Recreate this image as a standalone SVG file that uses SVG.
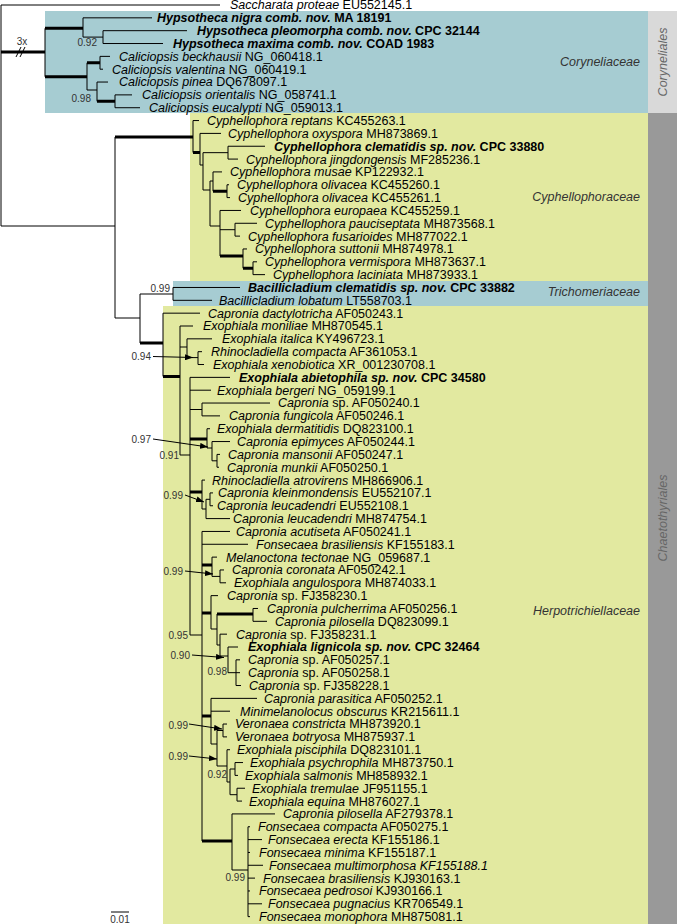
<svg xmlns="http://www.w3.org/2000/svg" width="677" height="924" viewBox="0 0 677 924">
<defs>
<style>
.t{font-family:"Liberation Sans",Arial,sans-serif;font-size:12.5px;fill:#000}
.i{font-style:italic}
.b{font-weight:bold}
.fam{font-family:"Liberation Sans",Arial,sans-serif;font-size:12.5px;font-style:italic;fill:#333}
.ord{font-family:"Liberation Sans",Arial,sans-serif;font-size:12.5px;font-style:italic;fill:#666}
.s{font-family:"Liberation Sans",Arial,sans-serif;font-size:10px;fill:#333}
.br{fill:none;stroke:#000;stroke-width:1}
.th{fill:none;stroke:#000;stroke-width:3}
.ar{fill:none;stroke:#000;stroke-width:1;marker-end:url(#ah)}
</style>
<marker id="ah" viewBox="0 0 8 6" refX="8" refY="3" markerWidth="8" markerHeight="6" markerUnits="userSpaceOnUse" orient="auto">
<path d="M0,0L8,3L0,6z" fill="#000"/>
</marker>
</defs>
<rect width="677" height="924" fill="#fff"/>
<g id="backgrounds">
<rect x="45" y="11" width="603" height="102" fill="#a6ccd2"/>
<rect x="648" y="11" width="29" height="102" fill="#d9d9d9"/>
<rect x="190" y="113" width="458" height="168" fill="#e2e9a0"/>
<rect x="173" y="281" width="475" height="25" fill="#a6ccd2"/>
<rect x="163" y="306" width="485" height="618" fill="#e2e9a0"/>
<rect x="648" y="113" width="29" height="811" fill="#999"/>
</g>
<g id="group-labels">
<text class="fam" x="640" y="66" text-anchor="end">Coryneliaceae</text>
<text class="fam" x="640" y="201" text-anchor="end">Cyphellophoraceae</text>
<text class="fam" x="640" y="296" text-anchor="end">Trichomeriaceae</text>
<text class="fam" x="640" y="615" text-anchor="end">Herpotrichiellaceae</text>
<text class="ord" transform="translate(667,62) rotate(-90)" text-anchor="middle">Coryneliales</text>
<text class="ord" transform="translate(667,518) rotate(-90)" text-anchor="middle">Chaetothyriales</text>
</g>
<g id="connectors">
<path class="br" stroke-width="1.3" d="M1,5V226M1,226H115M115,137V318"/>
<path class="br" d="M1,5H220
M45,28.3V76.7
M83,17.84V37.1M83,17.84H152M83,37.1H103
M103,30.68V43.52M103,30.68H187M103,43.52H163
M87,62.8V90M87,90H97
M100,56.36V69.2M100,56.36H110M100,69.2H103
M97,82.04V101.3M97,82.04H108
M115,94.88V107.72M115,94.88H132M115,107.72H140
M193,120.56V152.5M193,120.56H199
M200,133.4V165M200,133.4H221M200,165H203
M203,152.66V190M203,152.66H228M203,190H210
M228,146.24V159.08M228,146.24H265M228,159.08H238
M210,181V226M210,181H213M210,226H220
M213,171.92V191.18M213,171.92H222
M227,184.76V197.6M227,184.76H229M227,197.6H230
M220,210.44V256M220,210.44H241M220,229.7H235
M235,223.28V236.12M235,223.28H257M235,236.12H240
M243,248.96V268.2M243,248.96H247
M253,261.8V274.64M253,261.8H257M253,274.64H265
M115,318H140M140,294V343M140,294H173
M173,287.48V300.32M173,287.48H240M173,300.32H212
M163,313.16V376.4M163,313.16H200
M180,326V455M180,326H193M180,347H187M180,455H190
M187,338.84V357.6M187,338.84H212M187,357.6H198
M198,351.68V364.52M198,351.68H202M198,364.52H204
M190,377.36V635M190,377.36H230M190,390.2H211M190,409.5H202M190,635H202
M202,403.04V415.88M202,403.04H270M202,415.88H220
M207,428.72V448M207,428.72H210M207,448H212
M212,441.56V460.8M212,441.56H230M212,460.8H217
M217,454.4V467.24M217,454.4H220M217,467.24H219
M202,480.08V509M202,480.08H205M202,509H206
M206,499.3V518.6M206,499.3H210M206,518.6H230
M210,492.92V505.76M210,492.92H213M210,505.76H213
M202,531.44V841M202,531.44H230M202,544.28H248
M212,557.12V576.4M212,557.12H217M212,576.4H220
M220,569.96V582.8M220,569.96H224M220,582.8H226
M211,595.64V629M211,595.64H218M211,629H217
M217,614V645M217,645H220
M220,634.16V656M220,634.16H227M220,656H228
M228,647V672.68M228,647H238M228,672.68H236
M236,659.84V685.52M236,659.84H240M236,672.68H240M236,685.52H241
M253,608.48V621.32M253,608.48H258M253,621.32H267
M211,698.36V744M211,698.36H257M211,711.2H230M211,744H217
M217,730.5V766M217,730.5H223M217,766H227
M223,724.04V736.88M223,724.04H227M223,736.88H227
M227,749.72V782M227,749.72H230M227,782H230
M230,769V794.7M230,769H235M230,794.7H237
M235,762.56V775.4M235,762.56H243M235,775.4H238
M237,788.24V801.08M237,788.24H245M237,801.08H242
M232,813.92V870M232,813.92H275M232,870H248
M248,826.76V916.64M248,826.76H250M248,839.6H262M248,852.44H250M248,865.28H263M248,878.12H255M248,890.96H250M248,903.8H262M248,916.64H250"/>
<path class="th" d="M1,52H45M45,28.3H83M45,76.7H87M87,62.8H100M97,101.3H115
M115,137H193M193,152.5H200M213,191.18H227M220,256H243M243,268.2H253
M140,343H163M163,376.4H180M190,439H207M190,492H202M202,565H212M202,613H211M217,614H253M202,716H211M202,841H232"/>
<path class="br" stroke-width="1.4" d="M16,57L21,47M20,57L25,47"/>
<path class="ar" d="M153,356.5L193,357.5"/>
<path class="ar" d="M153,439L208,447"/>
<path class="ar" d="M185,495L204,502"/>
<path class="ar" d="M185,571L213,574"/>
<path class="ar" d="M192,655L224,657.5"/>
<path class="ar" d="M189,724L222,729"/>
<path class="ar" d="M189,756L217,759"/>
<path class="br" d="M111,912H129"/>
</g>
<g id="support-values">
<text class="s" x="22" y="45" text-anchor="middle">3x</text>
<text class="s" x="97" y="46" text-anchor="end">0.92</text>
<text class="s" x="91" y="102" text-anchor="end">0.98</text>
<text class="s" x="170" y="292" text-anchor="end">0.99</text>
<text class="s" x="151" y="360" text-anchor="end">0.94</text>
<text class="s" x="151" y="443" text-anchor="end">0.97</text>
<text class="s" x="179" y="459" text-anchor="end">0.91</text>
<text class="s" x="183" y="499" text-anchor="end">0.99</text>
<text class="s" x="183" y="575" text-anchor="end">0.99</text>
<text class="s" x="188" y="639" text-anchor="end">0.95</text>
<text class="s" x="190" y="659" text-anchor="end">0.90</text>
<text class="s" x="227" y="675" text-anchor="end">0.98</text>
<text class="s" x="188" y="729" text-anchor="end">0.99</text>
<text class="s" x="188" y="760" text-anchor="end">0.99</text>
<text class="s" x="227" y="778" text-anchor="end">0.92</text>
<text class="s" x="245" y="881" text-anchor="end">0.99</text>
<text class="s" x="120" y="923" text-anchor="middle">0.01</text>
</g>
<g id="taxa">
<g id="t01"><text class="t" x="230" y="9.4"><tspan class="i">Saccharata proteae</tspan> EU552145.1</text></g>
<g id="t02"><text class="t b" x="157" y="22.2"><tspan class="i">Hypsotheca nigra comb. nov.</tspan> MA 18191</text></g>
<g id="t03"><text class="t b" x="197" y="35.1"><tspan class="i">Hypsotheca pleomorpha comb. nov.</tspan> CPC 32144</text></g>
<g id="t04"><text class="t b" x="173" y="47.9"><tspan class="i">Hypsotheca maxima comb. nov.</tspan> COAD 1983</text></g>
<g id="t05"><text class="t" x="119" y="60.8"><tspan class="i">Caliciopsis beckhausii</tspan> NG_060418.1</text></g>
<g id="t06"><text class="t" x="112" y="73.6"><tspan class="i">Caliciopsis valentina</tspan> NG_060419.1</text></g>
<g id="t07"><text class="t" x="119" y="86.4"><tspan class="i">Caliciopsis pinea</tspan> DQ678097.1</text></g>
<g id="t08"><text class="t" x="142" y="99.3"><tspan class="i">Caliciopsis orientalis</tspan> NG_058741.1</text></g>
<g id="t09"><text class="t" x="149" y="112.1"><tspan class="i">Caliciopsis eucalypti</tspan> NG_059013.1</text></g>
<g id="t10"><text class="t" x="207" y="125"><tspan class="i">Cyphellophora reptans</tspan> KC455263.1</text></g>
<g id="t11"><text class="t" x="228" y="137.8"><tspan class="i">Cyphellophora oxyspora</tspan> MH873869.1</text></g>
<g id="t12"><text class="t b" x="274" y="150.6"><tspan class="i">Cyphellophora clematidis sp. nov.</tspan> CPC 33880</text></g>
<g id="t13"><text class="t" x="246" y="163.5"><tspan class="i">Cyphellophora jingdongensis</tspan> MF285236.1</text></g>
<g id="t14"><text class="t" x="230" y="176.3"><tspan class="i">Cyphellophora musae</tspan> KP122932.1</text></g>
<g id="t15"><text class="t" x="237" y="189.2"><tspan class="i">Cyphellophora olivacea</tspan> KC455260.1</text></g>
<g id="t16"><text class="t" x="238" y="202"><tspan class="i">Cyphellophora olivacea</tspan> KC455261.1</text></g>
<g id="t17"><text class="t" x="250" y="214.8"><tspan class="i">Cyphellophora europaea</tspan> KC455259.1</text></g>
<g id="t18"><text class="t" x="265" y="227.7"><tspan class="i">Cyphellophora pauciseptata</tspan> MH873568.1</text></g>
<g id="t19"><text class="t" x="248" y="240.5"><tspan class="i">Cyphellophora fusarioides</tspan> MH877022.1</text></g>
<g id="t20"><text class="t" x="255" y="253.4"><tspan class="i">Cyphellophora suttonii</tspan> MH874978.1</text></g>
<g id="t21"><text class="t" x="265" y="266.2"><tspan class="i">Cyphellophora vermispora</tspan> MH873637.1</text></g>
<g id="t22"><text class="t" x="273" y="279"><tspan class="i">Cyphellophora laciniata</tspan> MH873933.1</text></g>
<g id="t23"><text class="t b" x="248" y="291.9"><tspan class="i">Bacillicladium clematidis sp. nov.</tspan> CPC 33882</text></g>
<g id="t24"><text class="t" x="219" y="304.7"><tspan class="i">Bacillicladium lobatum</tspan> LT558703.1</text></g>
<g id="t25"><text class="t" x="208" y="317.6"><tspan class="i">Capronia dactylotricha</tspan> AF050243.1</text></g>
<g id="t26"><text class="t" x="203" y="330.4"><tspan class="i">Exophiala moniliae</tspan> MH870545.1</text></g>
<g id="t27"><text class="t" x="222" y="343.2"><tspan class="i">Exophiala italica</tspan> KY496723.1</text></g>
<g id="t28"><text class="t" x="211" y="356.1"><tspan class="i">Rhinocladiella compacta</tspan> AF361053.1</text></g>
<g id="t29"><text class="t" x="213" y="368.9"><tspan class="i">Exophiala xenobiotica</tspan> XR_001230708.1</text></g>
<g id="t30"><text class="t b" x="239" y="381.8"><tspan class="i">Exophiala abietophila sp. nov.</tspan> CPC 34580</text></g>
<g id="t31"><text class="t" x="217" y="394.6"><tspan class="i">Exophiala bergeri</tspan> NG_059199.1</text></g>
<g id="t32"><text class="t" x="278" y="407.4"><tspan class="i">Capronia</tspan> sp. AF050240.1</text></g>
<g id="t33"><text class="t" x="229" y="420.3"><tspan class="i">Capronia fungicola</tspan> AF050246.1</text></g>
<g id="t34"><text class="t" x="217" y="433.1"><tspan class="i">Exophiala dermatitidis</tspan> DQ823100.1</text></g>
<g id="t35"><text class="t" x="237" y="446"><tspan class="i">Capronia epimyces</tspan> AF050244.1</text></g>
<g id="t36"><text class="t" x="228" y="458.8"><tspan class="i">Capronia mansonii</tspan> AF050247.1</text></g>
<g id="t37"><text class="t" x="227" y="471.6"><tspan class="i">Capronia munkii</tspan> AF050250.1</text></g>
<g id="t38"><text class="t" x="212" y="484.5"><tspan class="i">Rhinocladiella atrovirens</tspan> MH866906.1</text></g>
<g id="t39"><text class="t" x="218" y="497.3"><tspan class="i">Capronia kleinmondensis</tspan> EU552107.1</text></g>
<g id="t40"><text class="t" x="217" y="510.2"><tspan class="i">Capronia leucadendri</tspan> EU552108.1</text></g>
<g id="t41"><text class="t" x="233" y="523"><tspan class="i">Capronia leucadendri</tspan> MH874754.1</text></g>
<g id="t42"><text class="t" x="236" y="535.8"><tspan class="i">Capronia acutiseta</tspan> AF050241.1</text></g>
<g id="t43"><text class="t" x="256" y="548.7"><tspan class="i">Fonsecaea brasiliensis</tspan> KF155183.1</text></g>
<g id="t44"><text class="t" x="226" y="561.5"><tspan class="i">Melanoctona tectonae</tspan> NG_059687.1</text></g>
<g id="t45"><text class="t" x="232" y="574.4"><tspan class="i">Capronia coronata</tspan> AF050242.1</text></g>
<g id="t46"><text class="t" x="234" y="587.2"><tspan class="i">Exophiala angulospora</tspan> MH874033.1</text></g>
<g id="t47"><text class="t" x="227" y="600"><tspan class="i">Capronia</tspan> sp. FJ358230.1</text></g>
<g id="t48"><text class="t" x="267" y="612.9"><tspan class="i">Capronia pulcherrima</tspan> AF050256.1</text></g>
<g id="t49"><text class="t" x="275" y="625.7"><tspan class="i">Capronia pilosella</tspan> DQ823099.1</text></g>
<g id="t50"><text class="t" x="236" y="638.6"><tspan class="i">Capronia</tspan> sp. FJ358231.1</text></g>
<g id="t51"><text class="t b" x="248" y="651.4"><tspan class="i">Exophiala lignicola sp. nov.</tspan> CPC 32464</text></g>
<g id="t52"><text class="t" x="248" y="664.2"><tspan class="i">Capronia</tspan> sp. AF050257.1</text></g>
<g id="t53"><text class="t" x="248" y="677.1"><tspan class="i">Capronia</tspan> sp. AF050258.1</text></g>
<g id="t54"><text class="t" x="249" y="689.9"><tspan class="i">Capronia</tspan> sp. FJ358228.1</text></g>
<g id="t55"><text class="t" x="264" y="702.8"><tspan class="i">Capronia parasitica</tspan> AF050252.1</text></g>
<g id="t56"><text class="t" x="240" y="715.6"><tspan class="i">Minimelanolocus obscurus</tspan> KR215611.1</text></g>
<g id="t57"><text class="t" x="235" y="728.4"><tspan class="i">Veronaea constricta</tspan> MH873920.1</text></g>
<g id="t58"><text class="t" x="235" y="741.3"><tspan class="i">Veronaea botryosa</tspan> MH875937.1</text></g>
<g id="t59"><text class="t" x="237" y="754.1"><tspan class="i">Exophiala pisciphila</tspan> DQ823101.1</text></g>
<g id="t60"><text class="t" x="250" y="767"><tspan class="i">Exophiala psychrophila</tspan> MH873750.1</text></g>
<g id="t61"><text class="t" x="245" y="779.8"><tspan class="i">Exophiala salmonis</tspan> MH858932.1</text></g>
<g id="t62"><text class="t" x="252" y="792.6"><tspan class="i">Exophiala tremulae</tspan> JF951155.1</text></g>
<g id="t63"><text class="t" x="249" y="805.5"><tspan class="i">Exophiala equina</tspan> MH876027.1</text></g>
<g id="t64"><text class="t" x="283" y="818.3"><tspan class="i">Capronia pilosella</tspan> AF279378.1</text></g>
<g id="t65"><text class="t" x="258" y="831.2"><tspan class="i">Fonsecaea compacta</tspan> AF050275.1</text></g>
<g id="t66"><text class="t" x="268" y="844"><tspan class="i">Fonsecaea erecta</tspan> KF155186.1</text></g>
<g id="t67"><text class="t" x="259" y="856.8"><tspan class="i">Fonsecaea minima</tspan> KF155187.1</text></g>
<g id="t68"><text class="t i" x="269" y="869.7">Fonsecaea multimorphosa KF155188.1</text></g>
<g id="t69"><text class="t" x="263" y="882.5"><tspan class="i">Fonsecaea brasiliensis</tspan> KJ930163.1</text></g>
<g id="t70"><text class="t" x="259" y="895.4"><tspan class="i">Fonsecaea pedrosoi</tspan> KJ930166.1</text></g>
<g id="t71"><text class="t" x="268" y="908.2"><tspan class="i">Fonsecaea pugnacius</tspan> KR706549.1</text></g>
<g id="t72"><text class="t" x="259" y="921"><tspan class="i">Fonsecaea monophora</tspan> MH875081.1</text></g>
</g>
</svg>
